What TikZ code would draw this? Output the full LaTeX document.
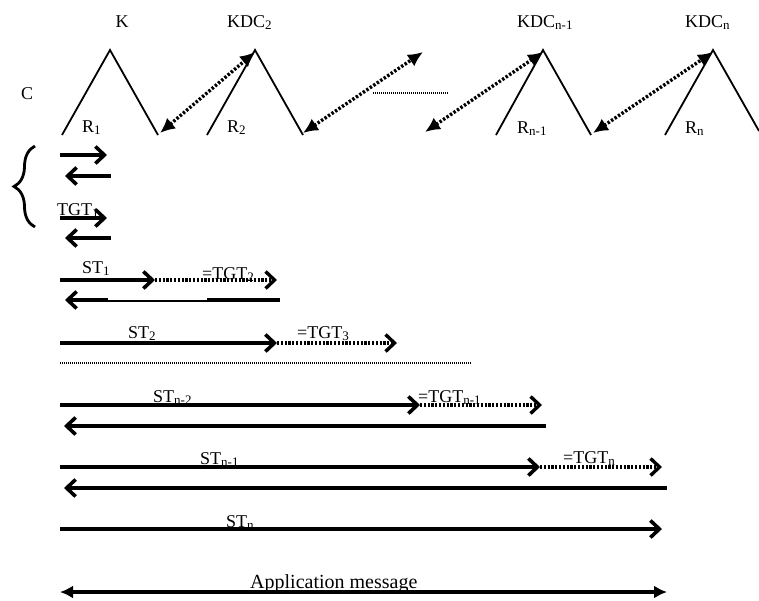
\documentclass[tikz,border=0pt]{standalone}
\usepackage{fontspec}
\setmainfont{Liberation Serif}
\usetikzlibrary{arrows.meta,decorations.pathreplacing}
\newcommand{\lsub}[1]{\raisebox{-2.5pt}{\fontsize{13}{14}\selectfont #1}}
\begin{document}
\begin{tikzpicture}[x=1pt,y=-1pt,
  lab/.style={font=\fontsize{18}{20}\selectfont, inner sep=0pt, anchor=base west},
  peak/.style={line width=1.8pt},
  msg/.style={line width=3.6pt, -{Straight Barb[length=9pt,width=17pt]}},
  msgl/.style={line width=3.6pt, {Straight Barb[length=9pt,width=17pt]}-},
  cont/.style={line width=3.4pt, dash pattern=on 2.2pt off 1.6pt, -{Straight Barb[length=9pt,width=17pt]}},
  kdcarrow/.style={line width=3.4pt, dash pattern=on 2.4pt off 1.8pt, {Latex[length=15pt,width=14pt]}-{Latex[length=15pt,width=14pt]}},
  thindot/.style={line width=1.5pt, dash pattern=on 1pt off 1pt},
  appl/.style={line width=3.6pt, {Latex[length=13pt,width=13pt]}-{Latex[length=13pt,width=13pt]}}
]
\useasboundingbox (0,0) rectangle (759,600);

% peaks
\coordinate (p1l) at (62,135);  \coordinate (p1t) at (110,50);  \coordinate (p1r) at (158,135);
\coordinate (p2l) at (207,135); \coordinate (p2t) at (255,50);  \coordinate (p2r) at (303,135);
\coordinate (p3l) at (496,135); \coordinate (p3t) at (543,50);  \coordinate (p3r) at (591,135);
\coordinate (p4l) at (665,135); \coordinate (p4t) at (713,50);  \coordinate (p4r) at (759,131);
\draw[peak] (p1l) -- (p1t) -- (p1r);
\draw[peak] (p2l) -- (p2t) -- (p2r);
\draw[peak] (p3l) -- (p3t) -- (p3r);
\draw[peak] (p4l) -- (p4t) -- (p4r);

% labels top
\node[lab] (C) at (21,99) {C};
\node[lab, anchor=base] (K) at (122,27) {K};
\node[lab] (kdc2) at (227,27) {KDC\lsub{2}};
\node[lab] (kdcn1) at (517,27) {KDC\lsub{n-1}};
\node[lab] (kdcn) at (685,27) {KDC\lsub{n}};
\node[lab] (r1) at (82,132) {R\lsub{1}};
\node[lab] (r2) at (227,132) {R\lsub{2}};
\node[lab] (rn1) at (517,133) {R\lsub{n-1}};
\node[lab] (rn) at (685,133) {R\lsub{n}};

% dotted double arrows between KDCs
\coordinate (d1a) at (160,133); \coordinate (d1b) at (255,52);
\coordinate (d2a) at (303,133); \coordinate (d2b) at (423,52);
\coordinate (d3a) at (425,132); \coordinate (d3b) at (543,52);
\coordinate (d4a) at (593,133); \coordinate (d4b) at (713,52);
\draw[kdcarrow] (d1a) -- (d1b);
\draw[kdcarrow] (d2a) -- (d2b);
\draw[kdcarrow] (d3a) -- (d3b);
\draw[kdcarrow] (d4a) -- (d4b);
\coordinate (h1) at (373,93); \coordinate (h2) at (449,93);
\draw[thindot] (h1) -- (h2);

% brace
\coordinate (b1) at (35,227); \coordinate (b2) at (35,146);
\draw[line width=2.8pt, decorate, decoration={brace, amplitude=21pt}] (b1) -- (b2);

% small exchanges
\coordinate (s1a) at (60,155);  \coordinate (s1b) at (107,155);
\coordinate (s2a) at (65,176);  \coordinate (s2b) at (111,176);
\coordinate (s3a) at (60,218);  \coordinate (s3b) at (107,218);
\coordinate (s4a) at (65,238);  \coordinate (s4b) at (111,238);
\node[lab] (tgt1) at (57,215) {TGT\lsub{1}};
\draw[msg] (s1a) -- (s1b);
\draw[msgl] (s2a) -- (s2b);
\draw[msg] (s3a) -- (s3b);
\draw[msgl] (s4a) -- (s4b);

% ST1
\coordinate (a1) at (60,280); \coordinate (a1m) at (155,280); \coordinate (a1e) at (277,280);
\node[lab] (st1) at (82,273) {ST\lsub{1}};
\node[lab] (tg2) at (202,279) {=TGT\lsub{2}};
\draw[msg] (a1) -- (a1m);
\draw[cont] (a1m) -- (a1e);
\coordinate (r1a) at (65,300); \coordinate (r1b) at (108,300);
\coordinate (r1c) at (207,300); \coordinate (r1d) at (280,300);
\draw[msgl] (r1a) -- (r1b);
\draw[line width=1.4pt] ([yshift=-1.1pt]r1b) -- ([yshift=-1.1pt]r1c);
\draw[line width=3.6pt] (r1c) -- (r1d);

% ST2
\coordinate (a2) at (60,343); \coordinate (a2m) at (277,343); \coordinate (a2e) at (397,343);
\node[lab] (st2) at (128,338) {ST\lsub{2}};
\node[lab] (tg3) at (297,338) {=TGT\lsub{3}};
\draw[msg] (a2) -- (a2m);
\draw[cont] (a2m) -- (a2e);

% separator
\coordinate (sep1) at (60,363); \coordinate (sep2) at (471,363);
\draw[thindot] (sep1) -- (sep2);

% ST n-2
\coordinate (a3) at (60,405); \coordinate (a3m) at (420,405); \coordinate (a3e) at (542,405);
\node[lab] (stn2) at (153,402) {ST\lsub{n-2}};
\node[lab] (tgn1) at (418,402) {=TGT\lsub{n-1}};
\draw[msg] (a3) -- (a3m);
\draw[cont] (a3m) -- (a3e);
\coordinate (r3a) at (64,426); \coordinate (r3b) at (546,426);
\draw[msgl] (r3a) -- (r3b);

% ST n-1
\coordinate (a4) at (60,467); \coordinate (a4m) at (540,467); \coordinate (a4e) at (662,467);
\node[lab] (stn1) at (200,464) {ST\lsub{n-1}};
\node[lab] (tgn) at (563,463) {=TGT\lsub{n}};
\draw[msg] (a4) -- (a4m);
\draw[cont] (a4m) -- (a4e);
\coordinate (r4a) at (64,488); \coordinate (r4b) at (667,488);
\draw[msgl] (r4a) -- (r4b);

% ST n
\coordinate (a5) at (60,529); \coordinate (a5e) at (662,529);
\node[lab] (stn) at (226,527) {ST\lsub{n}};
\draw[msg] (a5) -- (a5e);

% application message
\coordinate (m1) at (60,592); \coordinate (m2) at (667,592);
\node[lab, font=\fontsize{20}{22}\selectfont] (app) at (250,588) {Application message};
\draw[appl] (m1) -- (m2);
\end{tikzpicture}
\end{document}
